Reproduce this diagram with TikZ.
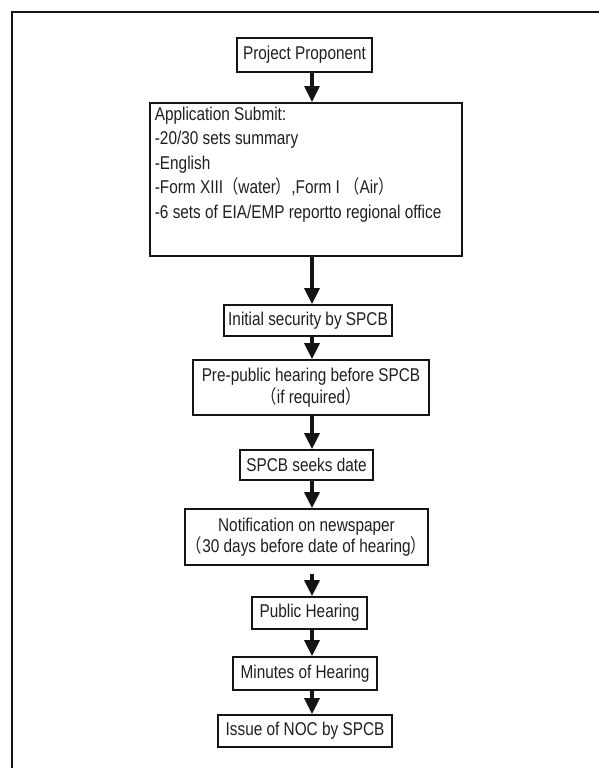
\documentclass[tikz,border=0pt]{standalone}
\usepackage{fontspec}
\setmainfont{Liberation Sans}[FakeStretch=0.83]
\newfontfamily\cjk{Noto Sans CJK SC}[FakeStretch=0.83]
\usetikzlibrary{arrows.meta}
% full-width brackets as used in the flow labels
\newcommand\lpar{{\cjk （}}
\newcommand\rpar{{\cjk ）}}
\definecolor{txt}{RGB}{30,30,30}
\definecolor{ink}{RGB}{20,20,20}

\begin{document}
\begin{tikzpicture}[x=1pt,y=-1pt,
  every node/.style={font=\fontsize{18.5}{21.5}\selectfont, text=txt},
  box/.style={draw=ink, line width=1.7pt, inner sep=0pt, align=center},
  arr/.style={draw=ink, line width=3.2pt, -{Triangle[width=15pt,length=16pt]}},
  frame/.style={draw=ink, line width=2pt}]
\useasboundingbox (0,0) rectangle (599,768);

% open frame: top and left edges only
\draw[frame] (12,768) -- (12,12) -- (599,12);

% column of the connecting arrows
\coordinate (ax) at (312,0);

\node[box, minimum width=135, minimum height=34] (pp) at (304.5,55) {Project Proponent};

\node[box, anchor=north west, inner xsep=5pt, inner ysep=4pt] (app) at (149,102)
  {\parbox[t][145pt][t]{302pt}{\raggedright\fontsize{18.5}{24.5}\selectfont
    Application Submit:\\
    -20/30 sets summary\\
    -English\\
    -Form XIII\lpar water\rpar,Form I \lpar Air\rpar\\
    -6 sets of EIA/EMP reportto regional office}};

\node[box, minimum width=168, minimum height=31] (init) at (308,320.5) {Initial security by SPCB};
\node[box, minimum width=236, minimum height=55] (pre) at (311,387.5)
  {Pre-public hearing before SPCB\\ \lpar if required\rpar};
\node[box, minimum width=133, minimum height=30] (seek) at (306.5,465) {SPCB seeks date};
\node[box, minimum width=243, minimum height=56] (notif) at (306.5,537)
  {Notification on newspaper\\ \lpar 30 days before date of hearing\rpar};
\node[box, minimum width=115, minimum height=32] (pub) at (309.5,613) {Public Hearing};
\node[box, minimum width=144, minimum height=33] (mins) at (305,673.5) {Minutes of Hearing};
\node[box, minimum width=174, minimum height=32] (noc) at (305,731) {Issue of NOC by SPCB};

\draw[arr] (pp.south -| ax) -- (app.north -| ax);
\draw[arr] (app.south -| ax) -- (init.north -| ax);
\draw[arr] (init.south -| ax) -- (pre.north -| ax);
\draw[arr] (pre.south -| ax) -- (seek.north -| ax);
\draw[arr] (seek.south -| ax) -- (notif.north -| ax);
\draw[arr] ([yshift=-8pt]notif.south -| ax) -- (pub.north -| ax);
\draw[arr] (pub.south -| ax) -- (mins.north -| ax);
\draw[arr] (mins.south -| ax) -- (noc.north -| ax);
\end{tikzpicture}
\end{document}
